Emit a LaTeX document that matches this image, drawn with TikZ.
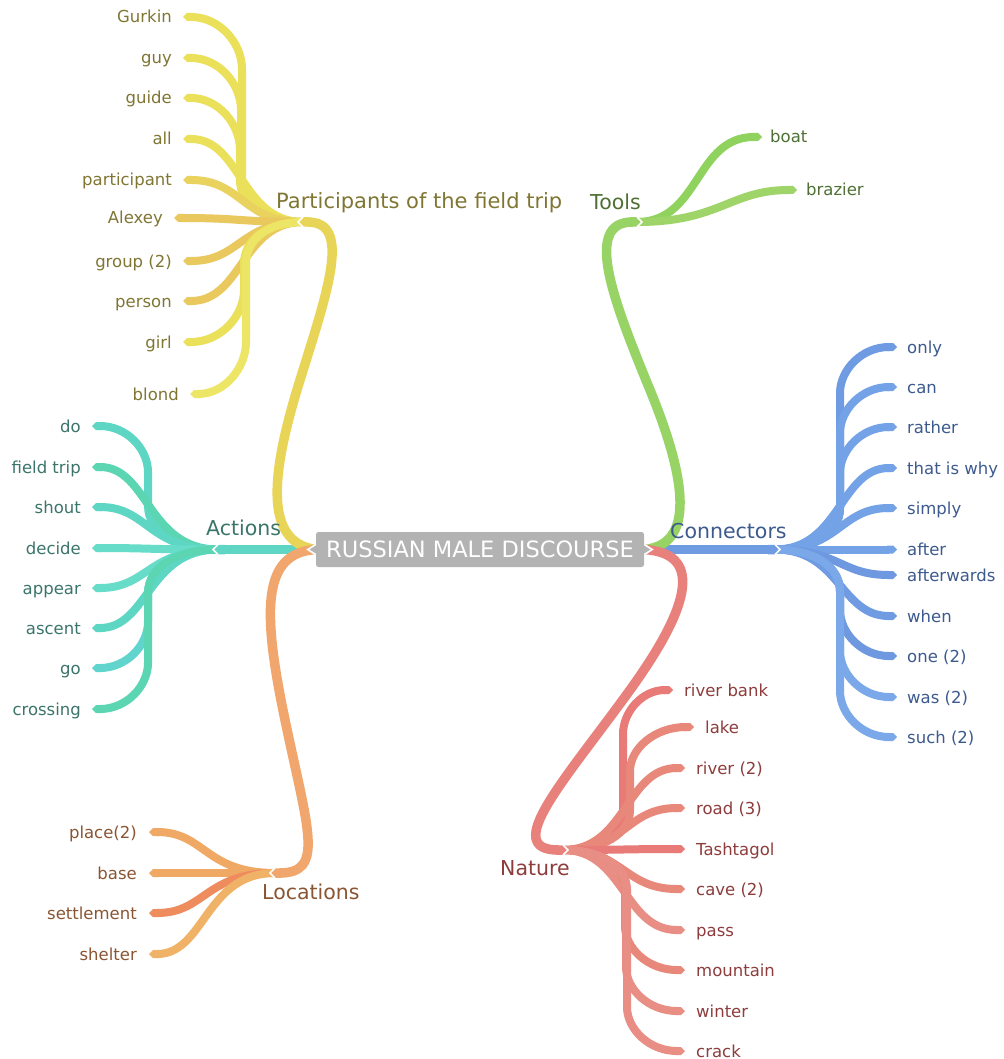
\documentclass[tikz,border=0pt]{standalone}
\usepackage{fontspec}
\setmainfont{DejaVu Sans}
\usetikzlibrary{arrows.meta,backgrounds}
\definecolor{rootgray}{HTML}{B3B3B3}
% yellow
\definecolor{yelM}{HTML}{E8D558}
\definecolor{yelA}{HTML}{EBE05A}
\definecolor{yelB}{HTML}{E9D25E}
\definecolor{yelC}{HTML}{E9C95E}
\definecolor{yelD}{HTML}{ECE566}
\definecolor{yelT}{HTML}{807633}
% teal
\definecolor{tealM}{HTML}{5ED6C3}
\definecolor{tealA}{HTML}{5DD6C4}
\definecolor{tealB}{HTML}{5CD6B2}
\definecolor{tealC}{HTML}{66DCC9}
\definecolor{tealD}{HTML}{62D4CE}
\definecolor{tealT}{HTML}{3B7569}
% orange
\definecolor{orM}{HTML}{F0A66C}
\definecolor{orA}{HTML}{F0A865}
\definecolor{orB}{HTML}{EE8C5E}
\definecolor{orC}{HTML}{F0B266}
\definecolor{orT}{HTML}{8A5532}
% green
\definecolor{grM}{HTML}{98D366}
\definecolor{grA}{HTML}{8FD35E}
\definecolor{grB}{HTML}{9FD468}
\definecolor{grT}{HTML}{4F7035}
% blue
\definecolor{blM}{HTML}{6F9BE3}
\definecolor{blA}{HTML}{73A2E6}
\definecolor{blB}{HTML}{7AA8E8}
\definecolor{blC}{HTML}{6E98E0}
\definecolor{blT}{HTML}{3C5A8E}
% red
\definecolor{rdM}{HTML}{E8817B}
\definecolor{rdA}{HTML}{E87A78}
\definecolor{rdB}{HTML}{E8887A}
\definecolor{rdC}{HTML}{E88E84}
\definecolor{rdT}{HTML}{8E3C3C}
% leaf connector: #1 colour, #2 hub name, #3 hub x, #4 hub y, #5 trunk x, #6 tip name, #7 tip x, #8 tip y
\def\mma{40}\def\mmb{42}
\newcommand\mmleaf[8]{%
  \pgfmathsetmacro\mmdy{#8-#4}%
  \pgfmathsetmacro\mmady{abs(\mmdy)}%
  \pgfmathsetmacro\mms{(\mmdy<0)?-1:1}%
  \pgfmathsetmacro\mmlim{\mma+\mmb}%
  \ifdim\mmady pt>\mmlim pt
  \draw[leafln,#1] (#2) .. controls ({#3+0.6*(#5-#3)},#4) and (#5,{#4+0.4*\mms*\mma}) .. (#5,{#4+\mms*\mma})
     -- (#5,{#8-\mms*\mmb}) .. controls (#5,{#8-0.5*\mms*\mmb}) and ({#7+0.62*(#5-#7)},#8) .. (#6);%
  \else
  \draw[leafln,#1] (#2) .. controls (#5,#4) and (#5,#8) .. (#6);%
  \fi
}
\begin{document}
\begin{tikzpicture}[x=1pt,y=-1pt,
  leafln/.style={line width=8pt,-{Triangle Cap}},
  mainln/.style={line width=9.5pt,-{Triangle Cap}},
  notchw/.style={draw=white,line width=1.6pt,line join=miter},
  tipst/.style={fill=rootgray,draw=white,line width=1.6pt,line join=miter},
  rootbox/.style={fill=rootgray,text=white,rounded corners=2.5pt,minimum width=328pt,minimum height=35pt,inner sep=0pt,font=\fontsize{22.5}{26}\selectfont},
  lbl/.style={inner sep=0pt,font=\fontsize{16.5}{19}\selectfont},
  blbl/.style={inner sep=0pt,font=\fontsize{20.5}{24}\selectfont}]
\useasboundingbox (0,0) rectangle (1003,1059);

\node[rootbox] (root) at (480,549.5) {RUSSIAN MALE DISCOURSE};

% junction points
\coordinate (PJ) at (298,222);   \coordinate (PH) at (303,222);   \coordinate (Pmid) at (300,380);
\coordinate (AJ) at (213,549.5); \coordinate (AH) at (218,549.5);
\coordinate (LJ) at (270,873);   \coordinate (LH) at (275,873);   \coordinate (Lmid) at (285,720);
\coordinate (TJ) at (642,222);   \coordinate (TH) at (637,222);   \coordinate (Tmid) at (650,390);
\coordinate (CJ) at (780,549.5); \coordinate (CH) at (775,549.5);
\coordinate (NJ) at (568,850);   \coordinate (NH) at (563,850);   \coordinate (Nmid) at (630,690);

% branch titles
\node[blbl,text=yelT,anchor=base west] (Ptitle) at (276,208.5) {\fontsize{21}{24}\selectfont Participants of the field trip};
\node[blbl,text=tealT,anchor=base west] (Atitle) at (206,535.5) {Actions};
\node[blbl,text=orT,anchor=base west] (Ltitle) at (262,899.5) {Locations};
\node[blbl,text=grT,anchor=base west] (Ttitle) at (590,209.5) {Tools};
\node[blbl,text=blT,anchor=base west] (Ctitle) at (670,538.5) {Connectors};
\node[blbl,text=rdT,anchor=base west] (Ntitle) at (500,875.5) {Nature};

\begin{scope}[on background layer]
\fill[white] (0,0) rectangle (1003,1059);

% ---------- Actions ----------
\def\mma{44}\def\mmb{46}
\foreach \n/\t/\y/\c in {A1/do/426/tealA,A2/field trip/467/tealB,A3/shout/507/tealA,A4/decide/548/tealC,A5/appear/588/tealC,A6/ascent/628/tealA,A7/go/668/tealD,A8/crossing/709/tealB}{
  \coordinate (\n) at (92,\y);
  \mmleaf{\c}{AH}{218}{549.5}{148}{\n}{92}{\y}
  \node[lbl,text=tealT,anchor=base east] (L\n) at (81,\y+6) {\t};
}
\draw[mainln,tealM] (root.west) -- (AJ);
\draw[notchw] (AJ) ++(5,-5) -- (AJ) -- +(5,5);

% ---------- Participants ----------
\def\mma{42}\def\mmb{52}
\foreach \n/\t/\x/\y/\c/\T in {P1/Gurkin/183/17/yelA/242,P2/guy/183/58/yelA/241,P3/guide/183/98/yelA/240,P4/all/183/139/yelA/241,P5/participant/183/180/yelB/242,P6/Alexey/174/218/yelC/240,P7/group (2)/183/261/yelC/240,P8/person/183/301/yelC/242,P9/girl/183/342/yelA/244,P10/blond/190/394/yelD/246}{
  \coordinate (\n) at (\x,\y);
  \mmleaf{\c}{PH}{303}{222}{\T}{\n}{\x}{\y}
  \node[lbl,text=yelT,anchor=base east] (L\n) at (\x-11,\y+6) {\t};
}
\draw[mainln,yelM] (root.west) .. controls (262,542) and (272,470) .. (Pmid)
   .. controls (328,290) and (352,222) .. (PJ);
\draw[notchw] (PJ) ++(5,-5) -- (PJ) -- +(5,5);

% ---------- Locations ----------
\def\mma{40}\def\mmb{44}
\foreach \n/\t/\y/\c in {L1/place(2)/832/orA,L2/base/873/orA,L3/settlement/913/orB,L4/shelter/954/orC}{
  \coordinate (\n) at (149,\y);
  \mmleaf{\c}{LH}{275}{873}{205}{\n}{149}{\y}
  \node[lbl,text=orT,anchor=base east] (L\n) at (137,\y+6) {\t};
}
\draw[mainln,orM] (root.west) .. controls (262,553) and (262,610) .. (Lmid)
   .. controls (308,830) and (325,873) .. (LJ);
\draw[notchw] (LJ) ++(5,-5) -- (LJ) -- +(5,5);

% ---------- Connectors ----------
\def\mma{42}\def\mmb{46}
\foreach \n/\t/\y/\c in {C1/only/347/blM,C2/can/387/blA,C3/rather/427/blA,C4/that is why/468/blA,C5/simply/508/blA,C6/after/549.5/blA,C7/afterwards/575/blC,C8/when/616/blM,C9/one (2)/656/blC,C10/was (2)/697/blB,C11/such (2)/737/blB}{
  \coordinate (\n) at (897,\y);
  \mmleaf{\c}{CH}{775}{549.5}{840}{\n}{897}{\y}
  \node[lbl,text=blT,anchor=base west] (L\n) at (907,\y+6) {\t};
}
\draw[mainln,blM] (root.east) -- (CJ);
\draw[notchw] (CJ) ++(-5,-5) -- (CJ) -- +(-5,5);

% ---------- Tools ----------
\coordinate (T1) at (762,137);
\coordinate (T2) at (797,190);
\draw[leafln,grA] (TH) .. controls +(63,0) and +(-67,0) .. (T1);
\draw[leafln,grB] (TH) .. controls +(83,0) and +(-67,0) .. (T2);
\node[lbl,text=grT,anchor=base west] (LT1) at (770,143) {boat};
\node[lbl,text=grT,anchor=base west] (LT2) at (806,196) {brazier};
\draw[mainln,grM] (root.east) .. controls (695,545) and (687,480) .. (Tmid)
   .. controls (613,300) and (583,222) .. (TJ);
\draw[notchw] (TJ) ++(-5,-5) -- (TJ) -- +(-5,5);

% ---------- Nature ----------
\def\mma{40}\def\mmb{44}
\foreach \n/\t/\x/\y/\c/\T in {N1/river bank/673/690/rdA/623,N2/lake/694/727/rdB/630,N3/river (2)/685/768/rdB/626,N4/road (3)/685/808/rdB/626,N5/Tashtagol/685/849/rdA/624,N6/cave (2)/685/889/rdB/624,N7/pass/685/930/rdC/624,N8/mountain/685/970/rdB/625,N9/winter/685/1011/rdC/626,N10/crack/685/1051/rdC/627}{
  \coordinate (\n) at (\x,\y);
  \mmleaf{\c}{NH}{563}{850}{\T}{\n}{\x}{\y}
  \node[lbl,text=rdT,anchor=base west] (L\n) at (\x+11,\y+6) {\t};
}
\draw[mainln,rdM] (root.east) .. controls (700,553) and (695,600) .. (Nmid)
   .. controls (565,780) and (500,850) .. (NJ);
\draw[notchw] (NJ) ++(-5,-5) -- (NJ) -- +(-5,5);

% ---------- root tips ----------
\filldraw[tipst] (root.west) ++(3,-7) -- ++(-11,7) -- ++(11,7) -- cycle;
\filldraw[tipst] (root.east) ++(-3,-7) -- ++(11,7) -- ++(-11,7) -- cycle;
\end{scope}
\end{tikzpicture}
\end{document}
